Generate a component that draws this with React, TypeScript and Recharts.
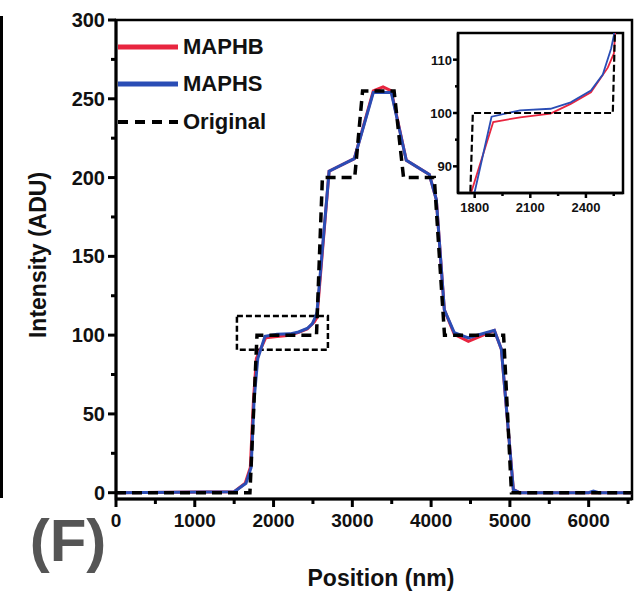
import { LineChart, Line, XAxis, YAxis, ReferenceArea } from 'recharts';

const FONT = '"Liberation Sans", Arial, sans-serif';

// MAPHS (blue) profile
const phsPos = [0, 1500, 1650, 1715, 1753, 1800, 1891, 2045, 2209, 2318, 2427, 2491, 2536, 2551, 2705, 3025, 3266, 3494, 3685, 3977, 4066, 4168, 4295, 4473, 4803, 4892, 5044, 5120, 6000, 6060, 6130, 6550];
const phsVal = [0, 0.6, 6, 16, 59, 85.2, 99.3, 100.5, 100.8, 102, 104.2, 107.2, 112.1, 114.6, 204, 212, 254, 254, 211, 202, 186, 116, 101.5, 98.3, 103, 91, 2, 0, 0, 1, 0, 0];

// MAPHB (red) profile
const phbPos = [0, 1500, 1640, 1705, 1745, 1782, 1900, 2045, 2209, 2318, 2427, 2518, 2551, 2705, 3025, 3266, 3390, 3494, 3685, 3977, 4066, 4168, 4295, 4473, 4803, 4892, 5044, 5120, 6550];
const phbVal = [0, 0.6, 6, 16, 59, 85.2, 98.3, 99.2, 99.9, 101.7, 103.9, 108.5, 111.2, 204, 212, 255, 257.5, 255, 211, 202, 186, 116, 100.5, 96, 103, 91, 2, 0, 0];

// Original step profile
const origPos = [0, 1700, 1790, 2545, 2620, 3030, 3130, 3530, 3650, 4040, 4170, 4920, 5020, 6550];
const origVal = [0, 0, 100, 100, 200, 200, 255, 255, 200, 200, 100, 100, 0, 0];

const xTicks = [0, 500, 1000, 1500, 2000, 2500, 3000, 3500, 4000, 4500, 5000, 5500, 6000, 6500];
const yTicks = [0, 25, 50, 75, 100, 125, 150, 175, 200, 225, 250, 275, 300];
const insetXTicks = [1800, 1950, 2100, 2250, 2400, 2550];
const insetYTicks = [90, 95, 100, 105, 110];

const legendItems = [
  { name: 'MAPHB', color: '#e8253f', dash: false },
  { name: 'MAPHS', color: '#2a4db5', dash: false },
  { name: 'Original', color: '#000', dash: true },
];

const toPts = (xs: number[], ys: number[]) => xs.map((x, i) => ({ x, y: ys[i] }));
const phs = toPts(phsPos, phsVal);
const phb = toPts(phbPos, phbVal);
const orig = toPts(origPos, origVal);

const RED = '#e8253f';
const BLUE = '#2a4db5';

const MainXTick = ({ x, y, payload }: any) => {
  const major = payload.value % 1000 === 0;
  return (
    <g>
      <line x1={x} x2={x} y1={y} y2={y + (major ? 8 : 5)} stroke="#000" strokeWidth={3} />
      {major && (
        <text x={x} y={y + 28} textAnchor="middle" fontFamily={FONT} fontWeight={700} fontSize={19} fill="#111">
          {payload.value}
        </text>
      )}
    </g>
  );
};

const MainYTick = ({ x, y, payload }: any) => {
  const major = payload.value % 50 === 0;
  return (
    <g>
      <line x1={x - (major ? 8 : 5)} x2={x} y1={y} y2={y} stroke="#000" strokeWidth={3} />
      {major && (
        <text x={x - 11} y={y + 7} textAnchor="end" fontFamily={FONT} fontWeight={700} fontSize={20} fill="#111">
          {payload.value}
        </text>
      )}
    </g>
  );
};

const InsetXTick = ({ x, y, payload }: any) => {
  const major = (payload.value - 1800) % 300 === 0;
  return (
    <g>
      <line x1={x} x2={x} y1={y} y2={y + (major ? 5 : 3)} stroke="#000" strokeWidth={2.5} />
      {major && (
        <text x={x} y={y + 19} textAnchor="middle" fontFamily={FONT} fontWeight={700} fontSize={13} fill="#111">
          {payload.value}
        </text>
      )}
    </g>
  );
};

const InsetYTick = ({ x, y, payload }: any) => {
  const major = payload.value % 10 === 0;
  return (
    <g>
      <line x1={x - (major ? 5 : 3)} x2={x} y1={y} y2={y} stroke="#000" strokeWidth={2.5} />
      {major && (
        <text x={x - 6} y={y + 5} textAnchor="end" fontFamily={FONT} fontWeight={700} fontSize={13} fill="#111">
          {payload.value}
        </text>
      )}
    </g>
  );
};

export default function App() {
  return (
    <div style={{ position: 'absolute', left: 0, top: 0, width: 637, height: 594, background: '#fff', overflow: 'hidden' }}>
      {/* edge of the neighbouring panel */}
      <div style={{ position: 'absolute', left: 0, top: 16, width: 3, height: 482, background: '#000' }} />

      <LineChart width={637} height={594} margin={{ top: 20, right: 5, bottom: 65, left: 56 }}>
        <XAxis
          type="number"
          dataKey="x"
          domain={[0, 6550]}
          ticks={xTicks}
          interval={0}
          allowDataOverflow
          tickSize={0}
          tickMargin={0}
          height={30}
          tick={(p: any) => <MainXTick {...p} />}
          axisLine={{ stroke: '#000', strokeWidth: 3 }}
        />
        <YAxis
          type="number"
          domain={[-4, 300]}
          ticks={yTicks}
          interval={0}
          allowDataOverflow
          tickSize={0}
          tickMargin={0}
          width={60}
          tick={(p: any) => <MainYTick {...p} />}
          axisLine={{ stroke: '#000', strokeWidth: 3 }}
        />
        <ReferenceArea x1={0} x2={6550} y1={-4} y2={300} fill="none" stroke="#000" strokeWidth={2.5} />
        <ReferenceArea x1={1535} x2={2690} y1={90.7} y2={112.2} fill="none" stroke="#000" strokeWidth={2.5} strokeDasharray="6 3" />
        <Line data={phb} dataKey="y" type="linear" stroke={RED} strokeWidth={3} dot={false} isAnimationActive={false} />
        <Line data={phs} dataKey="y" type="linear" stroke={BLUE} strokeWidth={3} dot={false} isAnimationActive={false} />
        <Line data={orig} dataKey="y" type="linear" stroke="#000" strokeWidth={3.5} strokeDasharray="10 6" dot={false} isAnimationActive={false} />
      </LineChart>

      {/* legend */}
      <div style={{ position: 'absolute', left: 116, top: 28, fontFamily: FONT, fontWeight: 700, fontSize: 22, color: '#111' }}>
        {legendItems.map((it) => (
          <div key={it.name} style={{ display: 'flex', alignItems: 'center', height: 37.5 }}>
            <svg width={64} height={10} style={{ marginRight: 3 }}>
              <line x1={2} x2={62} y1={5} y2={5} stroke={it.color} strokeWidth={it.dash ? 4 : 5} strokeDasharray={it.dash ? '10 7' : undefined} />
            </svg>
            <span>{it.name}</span>
          </div>
        ))}
      </div>

      {/* inset */}
      <div style={{ position: 'absolute', left: 400, top: 20 }}>
        <LineChart width={230} height={200} margin={{ top: 13, right: 7, bottom: 7, left: 18 }}>
          <XAxis
            type="number"
            dataKey="x"
            domain={[1710, 2600]}
            ticks={insetXTicks}
            interval={0}
            allowDataOverflow
            tickSize={0}
            tickMargin={0}
            height={20}
            tick={(p: any) => <InsetXTick {...p} />}
            axisLine={{ stroke: '#000', strokeWidth: 2.5 }}
          />
          <YAxis
            type="number"
            domain={[85, 115]}
            ticks={insetYTicks}
            interval={0}
            allowDataOverflow
            tickSize={0}
            tickMargin={0}
            width={40}
            tick={(p: any) => <InsetYTick {...p} />}
            axisLine={{ stroke: '#000', strokeWidth: 2.5 }}
          />
          <ReferenceArea x1={1710} x2={2600} y1={85} y2={115} fill="none" stroke="#000" strokeWidth={2.5} />
          <Line data={phb} dataKey="y" type="linear" stroke={RED} strokeWidth={1.8} dot={false} isAnimationActive={false} />
          <Line data={phs} dataKey="y" type="linear" stroke={BLUE} strokeWidth={1.8} dot={false} isAnimationActive={false} />
          <Line data={orig} dataKey="y" type="linear" stroke="#000" strokeWidth={2.2} strokeDasharray="7 3" dot={false} isAnimationActive={false} />
        </LineChart>
      </div>

      {/* axis titles and panel tag */}
      <div style={{ position: 'absolute', left: 38, top: 255, transform: 'translate(-50%, -50%) rotate(-90deg)', whiteSpace: 'nowrap', fontFamily: FONT, fontWeight: 700, fontSize: 23, color: '#111' }}>
        Intensity (ADU)
      </div>
      <div style={{ position: 'absolute', left: 381, top: 578, transform: 'translate(-50%, -50%)', whiteSpace: 'nowrap', fontFamily: FONT, fontWeight: 700, fontSize: 23, color: '#111' }}>
        Position (nm)
      </div>
      <div style={{ position: 'absolute', left: 68, top: 540, transform: 'translate(-50%, -50%)', whiteSpace: 'nowrap', fontFamily: FONT, fontWeight: 700, fontSize: 60, color: '#555' }}>
        (F)
      </div>
    </div>
  );
}
